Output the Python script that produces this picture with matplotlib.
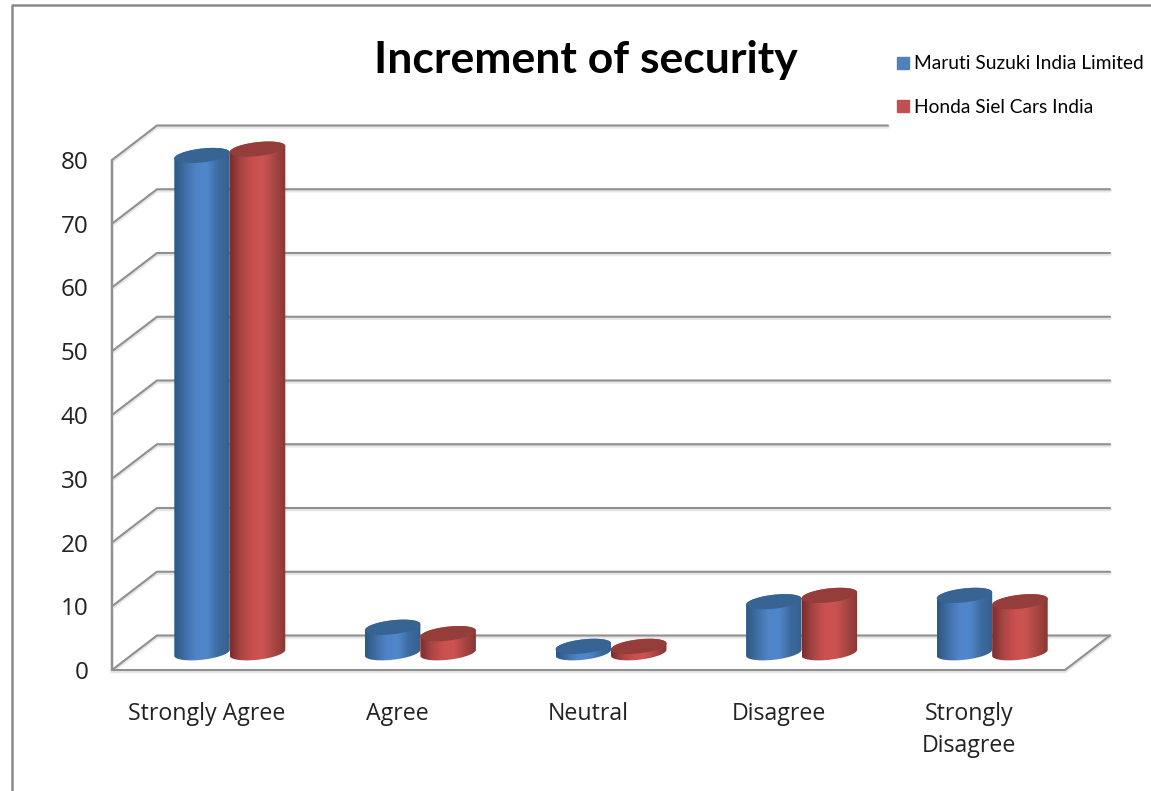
import numpy as np
import matplotlib
matplotlib.use("Agg")
import matplotlib.pyplot as plt
from matplotlib.colors import LinearSegmentedColormap
from matplotlib.lines import Line2D
from matplotlib.patches import Polygon

categories = ["Strongly Agree", "Agree", "Neutral", "Disagree", "Strongly\nDisagree"]
maruti = [78, 4, 1, 8, 9]
honda = [79, 3, 1, 9, 8]
y_ticks = [0, 10, 20, 30, 40, 50, 60, 70, 80]
series_names = ["Maruti Suzuki India Limited", "Honda Siel Cars India"]
chart_title = "Increment of security"

W, H = 1151, 791
fig = plt.figure(figsize=(W / 100, H / 100), dpi=100, facecolor="white")

# axes rectangle is the front plane of the fake 3d box
left, right, bottom, top = 112, 1065, 670, 160
ax = fig.add_axes([left / W, 1 - bottom / H, (right - left) / W, (bottom - top) / H])
ux = (right - left) / 5.0   # px per category
uy = (bottom - top) / 80.0  # px per value unit
depth_x = 45 / ux
depth_y = 34.5 / uy
bar_w = 55.5 / ux

grey = "#909090"
shadow = "#e6e6e6"


def box_line(xs, ys):
    ax.plot(xs, np.array(ys) - 0.2, color=shadow, lw=2.8, zorder=1, clip_on=False, solid_capstyle="round")
    ax.plot(xs, ys, color=grey, lw=1.5, zorder=2, clip_on=False, solid_capstyle="round")


# walls and floor, the top line stops short of the legend
for t in y_ticks:
    end = (888 - left) / ux if t == y_ticks[-1] else 5 + depth_x
    box_line([0, depth_x, end], [t, t + depth_y, t + depth_y])
box_line([0, 0], [0, 80])
box_line([0, 5, 5 + depth_x], [0, 0, depth_y])

blue_map = LinearSegmentedColormap.from_list("b", ["#2e5682", "#3f6fa6", "#5085c8", "#4f86ca", "#3d6a9e", "#35608f"])
red_map = LinearSegmentedColormap.from_list("r", ["#7a2e2c", "#a84543", "#c9504e", "#cb5452", "#a84644", "#883634"])
strip = np.linspace(0, 1, 128).reshape(1, -1)


def ellipse(cx, cy, t):
    ex = cx + (bar_w / 2) * np.cos(t)
    ey = cy + (7 / uy) * np.sin(t) + (3 / uy) * np.cos(t)
    return ex, ey


def cylinder(cx, value, cmap, top_color, z):
    base_y = depth_y / 2
    # lower half of the base ellipse, then the upper half of the top one
    low_x, low_y = ellipse(cx, base_y, np.linspace(np.pi, 2 * np.pi, 45))
    up_x, up_y = ellipse(cx, base_y + value, np.linspace(0, np.pi, 45))
    body = np.column_stack([np.concatenate([low_x, up_x]), np.concatenate([low_y, up_y])])
    outline = Polygon(body, closed=True, transform=ax.transData, fc="none", ec="none")
    ax.add_patch(outline)
    a = bar_w / 2
    im = ax.imshow(strip, cmap=cmap, aspect="auto", zorder=z,
                   extent=[cx - a, cx + a, base_y - 3, base_y + value + 3])
    # tall bars poke out of the front plane, so clip to the figure and not the axes
    im.set_clip_box(fig.bbox)
    im.set_clip_path(outline)
    top_x, top_y = ellipse(cx, base_y + value, np.linspace(0, 2 * np.pi, 90))
    ax.fill(top_x, top_y, color=top_color, lw=0, zorder=z + 0.1, clip_on=False)


mid = depth_x / 2
for i in range(len(categories)):
    cx = i + 0.5 + mid
    cylinder(cx - bar_w / 2, maruti[i], blue_map, "#386494", 3)
    cylinder(cx + bar_w / 2, honda[i], red_map, "#943d3b", 4)

ax.set_xlim(0, 5)
ax.set_ylim(0, 80)
for s in ax.spines.values():
    s.set_visible(False)
ax.patch.set_visible(False)

label_font = "Open Sans"
ax.set_xticks(np.arange(5) + 0.497)
ax.set_xticklabels(categories, fontsize=16.7, family=label_font, color="#222222", linespacing=1.42)
ax.set_yticks(y_ticks)
ax.set_yticklabels([str(v) for v in y_ticks], fontsize=17.5, family=label_font, color="#222222")
ax.tick_params(axis="x", length=0, pad=23)
ax.tick_params(axis="y", length=0, pad=17)

fig.text(586 / W, 1 - 60 / H, chart_title, fontsize=32, fontweight="bold", family="Lato",
         ha="center", va="center", color="black")

# outer chart border
fig.add_artist(Line2D([12 / W, 12 / W, 1], [0, 1 - 5 / H, 1 - 5 / H], color="#8a8a8a", lw=1.8))

handles = [
    Line2D([], [], marker="s", ls="none", ms=8, color="#4f81bd"),
    Line2D([], [], marker="s", ls="none", ms=8, color="#c0504d"),
]
leg = fig.legend(handles, series_names, loc="upper left", bbox_to_anchor=(878 / W, 1 - 40 / H),
                 frameon=False, prop={"family": "Lato", "size": 13.75}, labelspacing=1.38,
                 handletextpad=0.1, borderaxespad=0, borderpad=0.8, handlelength=1.0)
leg.set_zorder(5)
ax.set_zorder(1)

fig.savefig("out.png", dpi=100, facecolor="white")
